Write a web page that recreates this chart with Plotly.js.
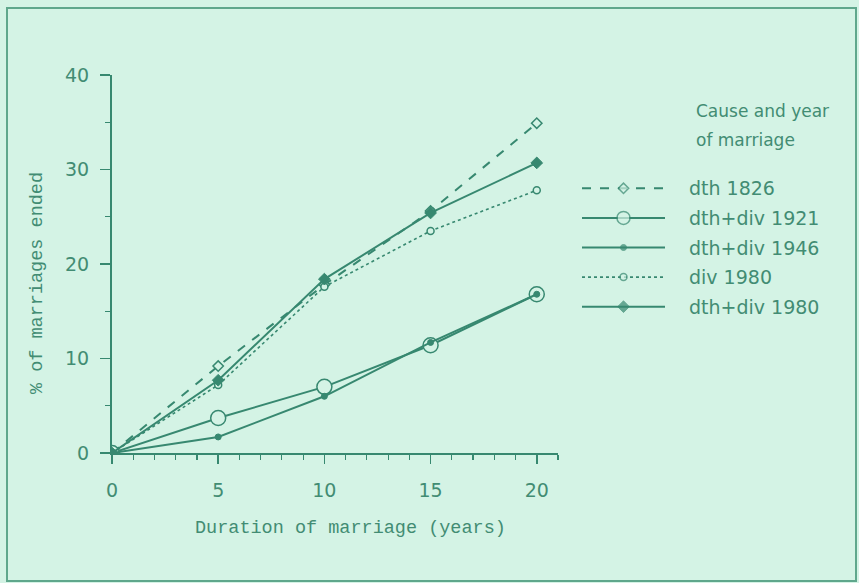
<!DOCTYPE html>
<html>
<head>
<meta charset="utf-8">
<script src="https://cdn.plot.ly/plotly-3.0.1.min.js"></script>
<style>
html,body{margin:0;padding:0;background:#d4f3e5;}
#chart{width:859px;height:583px;}
</style>
</head>
<body>
<div id="chart"></div>
<script>
// ---- data ----
const duration = [0, 5, 10, 15, 20];
const dth1826 = [0, 9.2, 17.8, 25.6, 34.9];
const dthdiv1921 = [0, 3.7, 7.0, 11.4, 16.8];
const dthdiv1946 = [0, 1.7, 6.0, 11.7, 16.8];
const div1980 = [0, 7.2, 17.6, 23.5, 27.8];
const dthdiv1980 = [0, 7.7, 18.4, 25.4, 30.7];
const seriesNames = ["dth 1826", "dth+div 1921", "dth+div 1946", "div 1980", "dth+div 1980"];
const xTicks = [0, 5, 10, 15, 20];
const yTicks = [0, 10, 20, 30, 40];
const legendTitle = ["Cause and year", "of marriage"];
const xTitle = "Duration of marriage (years)";
const yTitle = "% of marriages ended";

const bg = "#d4f3e5";
const ink = "#378870";
const txt = "#428c73";

const styles = [
  {dash: "dash", symbol: "diamond", size: 8, fill: bg, lw: 1.5, w: 2},
  {dash: "solid", symbol: "circle", size: 15, fill: bg, lw: 1.5, w: 2},
  {dash: "solid", symbol: "circle", size: 6, fill: ink, lw: 1, w: 2},
  {dash: "dot", symbol: "circle", size: 7, fill: bg, lw: 1.5, w: 1.6},
  {dash: "solid", symbol: "diamond", size: 9, fill: ink, lw: 1, w: 2}
];
const allValues = [dth1826, dthdiv1921, dthdiv1946, div1980, dthdiv1980];

const traces = [];
allValues.forEach((vals, i) => {
  const s = styles[i];
  traces.push({
    x: duration, y: vals, type: "scatter", mode: "lines+markers",
    name: seriesNames[i], xaxis: "x", yaxis: "y", showlegend: false,
    line: {color: ink, width: s.w, dash: s.dash},
    marker: {symbol: s.symbol, size: s.size, color: s.fill, line: {color: ink, width: s.lw}}
  });
});
// legend samples on a small helper axis
allValues.forEach((vals, i) => {
  const s = styles[i];
  traces.push({
    x: [0, 0.5, 1], y: [i, i, i], type: "scatter", mode: "lines+markers",
    xaxis: "x2", yaxis: "y2", showlegend: false, hoverinfo: "skip",
    line: {color: ink, width: s.w, dash: s.dash},
    marker: {symbol: s.symbol, size: [0, Math.min(s.size, 13), 0], color: s.fill, line: {color: ink, width: [0, s.lw, 0]}}
  });
});

const W = 859, H = 583;
const px = v => v / W, py = v => (H - v) / H;

const annotations = [];
seriesNames.forEach((n, i) => {
  annotations.push({text: n, xref: "paper", yref: "y2", x: px(687), y: i, xanchor: "left", yanchor: "middle",
    showarrow: false, font: {family: "DejaVu Sans", size: 19, color: txt}});
});
legendTitle.forEach((t, i) => {
  annotations.push({text: t, xref: "paper", yref: "paper", x: px(694), y: py(111 + i * 29), xanchor: "left", yanchor: "middle",
    showarrow: false, font: {family: "DejaVu Sans", size: 17, color: txt}});
});
annotations.push({text: xTitle, xref: "paper", yref: "paper", x: px(350), y: py(528), xanchor: "center", yanchor: "middle",
  showarrow: false, font: {family: "Liberation Mono", size: 18.5, color: txt}});
annotations.push({text: yTitle, xref: "paper", yref: "paper", x: px(37), y: py(283), xanchor: "center", yanchor: "middle",
  textangle: -90, showarrow: false, font: {family: "Liberation Mono", size: 18.5, color: txt}});

const layout = {
  width: W, height: H,
  margin: {l: 0, r: 0, t: 0, b: 0},
  paper_bgcolor: bg, plot_bgcolor: bg,
  showlegend: false,
  xaxis: {
    domain: [px(112), px(558)], range: [0, 21], tickvals: xTicks, ticktext: xTicks.map(String),
    showgrid: false, zeroline: false, showline: true, linecolor: ink, linewidth: 2,
    ticks: "outside", ticklen: 9, tickwidth: 1.5, tickcolor: ink, ticklabelstandoff: 10,
    minor: {dtick: 1, tick0: 0, ticks: "outside", ticklen: 5, tickwidth: 1.2, tickcolor: ink, showgrid: false},
    tickfont: {family: "DejaVu Sans", size: 19, color: txt}, anchor: "y"
  },
  yaxis: {
    domain: [py(453), py(75)], range: [0, 40], tickvals: yTicks, ticktext: yTicks.map(String),
    showgrid: false, zeroline: false, showline: true, linecolor: ink, linewidth: 2,
    ticks: "outside", ticklen: 10, tickwidth: 1.5, tickcolor: ink, ticklabelstandoff: 7,
    minor: {dtick: 5, tick0: 0, ticks: "outside", ticklen: 5, tickwidth: 1.2, tickcolor: ink, showgrid: false},
    tickfont: {family: "DejaVu Sans", size: 19, color: txt}, anchor: "x"
  },
  xaxis2: {domain: [px(582), px(665)], range: [0, 1], visible: false, fixedrange: true, anchor: "y2"},
  yaxis2: {domain: [py(321.5), py(173.5)], range: [4.5, -0.5], visible: false, fixedrange: true, anchor: "x2"},
  annotations: annotations,
  shapes: [
    {type: "rect", xref: "paper", yref: "paper", x0: px(7), x1: px(856), y0: py(581), y1: py(8),
      line: {color: "#5fa78c", width: 2}, fillcolor: "rgba(0,0,0,0)", layer: "below"}
  ]
};

Plotly.newPlot("chart", traces, layout, {displayModeBar: false, staticPlot: true});
</script>
</body>
</html>
